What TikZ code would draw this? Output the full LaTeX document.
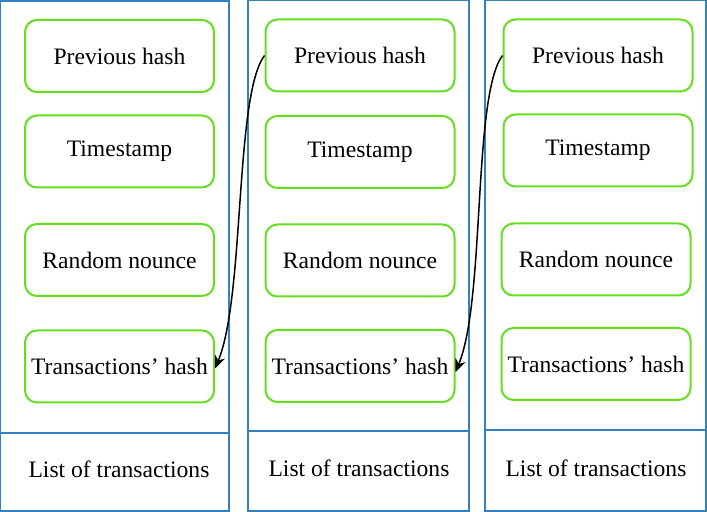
\documentclass[tikz,border=0pt]{standalone}
\usepackage{fontspec}
\setmainfont{Liberation Serif}
\definecolor{bblue}{HTML}{3580C0}
\definecolor{ggreen}{HTML}{66DD1E}
\usetikzlibrary{positioning}
\usetikzlibrary{arrows.meta}

\begin{document}
\begin{tikzpicture}[
	x=0.5pt, y=-0.5pt,
	field/.style={draw=ggreen, line width=1pt, rounded corners=6pt,
		minimum width=94.5pt, minimum height=36pt, inner sep=0pt,
		font=\fontsize{11.8}{14}\selectfont},
	listtext/.style={font=\fontsize{11.8}{14}\selectfont},
	column/.style={draw=bblue, line width=0.8pt},
	-->/.style={-{Stealth[length=6.5pt,width=5.5pt]}, line width=0.75pt},
	]
	\useasboundingbox (0,0) rectangle (707,512);
	% blocks
	\draw[column] (0,1) rectangle (229,511);
	\draw[column] (0,433) -- (229,433);
	\draw[column] (248,0.5) rectangle (469,511);
	\draw[column] (248,431) -- (469,431);
	\draw[column] (485,0.5) rectangle (706,511);
	\draw[column] (485,430) -- (706,430);
	% block 1
	\node[field] (prev1) at (119.5,56) {Previous hash};
	\node[field] (time1) at (119.5,151.5) {Timestamp};
	\node[field] (nonce1) at (119.5,260) {Random nounce};
	\node[field] (trans1) at (119.5,366.5) {Transactions’ hash};
	\node[listtext] (list1) at (119,469) {List of transactions};
	% block 2
	\node[field] (prev2) at (360,55.5) {Previous hash};
	\node[field] (time2) at (360,152) {Timestamp};
	\node[field] (nonce2) at (360,260.5) {Random nounce};
	\node[field] (trans2) at (360,366) {Transactions’ hash};
	\node[listtext] (list2) at (359,468) {List of transactions};
	% block 3
	\node[field] (prev3) at (598,55.5) {Previous hash};
	\node[field] (time3) at (598,150.5) {Timestamp};
	\node[field] (nonce3) at (596,259.5) {Random nounce};
	\node[field] (trans3) at (596,364) {Transactions’ hash};
	\node[listtext] (list3) at (596,468) {List of transactions};
	% links
	\draw[-->] (prev2.west) .. controls +(-30,40) and +(30,-72) .. ([yshift=-1pt]trans1.east);
	\draw[-->] (prev3.west) .. controls +(-30,40) and +(30,-72) .. ([yshift=-3pt]trans2.east);
\end{tikzpicture}
\end{document}
